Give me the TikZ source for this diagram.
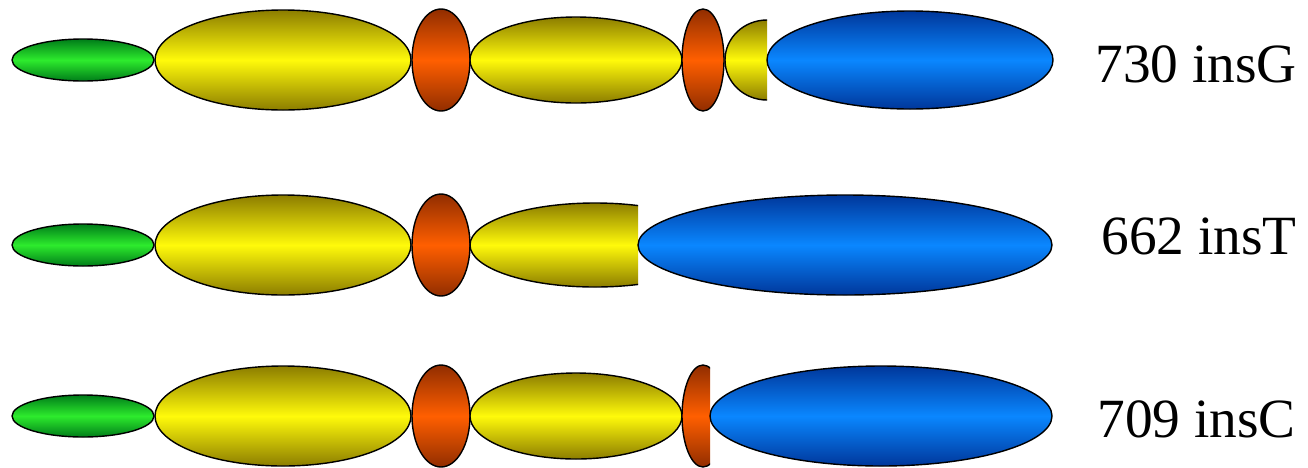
\documentclass[tikz,border=0pt]{standalone}
\usepackage{fontspec}
\setmainfont{Liberation Serif}
\definecolor{grnlite}{RGB}{45,235,45}
\definecolor{grndark}{RGB}{0,125,25}
\definecolor{ylwlite}{RGB}{255,250,10}
\definecolor{ylwdark}{RGB}{140,125,0}
\definecolor{orglite}{RGB}{255,95,0}
\definecolor{orgdark}{RGB}{145,45,0}
\definecolor{blulite}{RGB}{10,135,255}
\definecolor{bludark}{RGB}{0,55,155}

\begin{document}
\begin{tikzpicture}[
  x=0.02cm, y=-0.02cm,
  dom/.style={draw=black, line width=0.8pt},
  grn/.style={dom, top color=grndark, bottom color=grndark, middle color=grnlite},
  ylw/.style={dom, top color=ylwdark, bottom color=ylwdark, middle color=ylwlite},
  org/.style={dom, top color=orgdark, bottom color=orgdark, middle color=orglite},
  blu/.style={dom, top color=bludark, bottom color=bludark, middle color=blulite},
  lbl/.style={anchor=west, inner sep=0pt, font=\fontsize{31.5}{38}\selectfont},
]
  \useasboundingbox (0,0) rectangle (1308,467);

  % 730 insG
  \shadedraw[grn] (83,60) ellipse (71 and 21);
  \shadedraw[ylw] (283,60) ellipse (128 and 50);
  \shadedraw[org] (441,60) ellipse (29 and 51);
  \shadedraw[ylw] (576,60) ellipse (106 and 43);
  \shadedraw[org] (703,60) ellipse (21 and 51);
  \begin{scope}
    \clip (700,0) rectangle (767,130);
    \shadedraw[ylw] (767,60) ellipse (42 and 40);
  \end{scope}
  \shadedraw[blu] (910,60) ellipse (143 and 49);
  \node[lbl] (insg) at (1095,64) {730 insG};

  % 662 insT
  \shadedraw[grn] (83,245) ellipse (71 and 21);
  \shadedraw[ylw] (283,245) ellipse (128 and 50);
  \shadedraw[org] (441,245) ellipse (29 and 51);
  \begin{scope}
    \clip (460,180) rectangle (638,310);
    \shadedraw[ylw] (595,245) ellipse (125 and 42);
  \end{scope}
  \shadedraw[blu] (845,245) ellipse (207 and 50);
  \node[lbl] (inst) at (1101,236) {662 insT};

  % 709 insC
  \shadedraw[grn] (83,416) ellipse (71 and 21);
  \shadedraw[ylw] (283,416) ellipse (128 and 50);
  \shadedraw[org] (441,416) ellipse (29 and 51);
  \shadedraw[ylw] (576,416) ellipse (106 and 43);
  \begin{scope}
    \clip (670,350) rectangle (710,470);
    \shadedraw[org] (703,416) ellipse (21 and 51);
  \end{scope}
  \shadedraw[blu] (881,416) ellipse (171 and 50);
  \node[lbl] (insc) at (1097,419) {709 insC};
\end{tikzpicture}
\end{document}
